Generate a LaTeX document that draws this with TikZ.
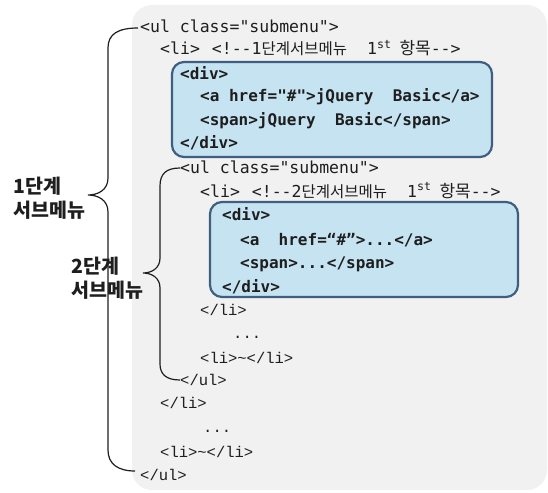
\documentclass[tikz,border=0pt]{standalone}
\usepackage{fontspec}
\newfontfamily\codesans{DejaVu Sans Mono}
\newfontfamily\codeserif{Liberation Mono}
\newfontfamily\kr{Noto Sans CJK KR}
\newcommand\krc[1]{{\kr\fontsize{15.5}{16}\selectfont #1}}
\definecolor{bgGray}{HTML}{F1F1F1}
\definecolor{boxFill}{HTML}{C6E3F1}
\definecolor{boxLine}{HTML}{3F5F80}
\definecolor{ink}{HTML}{1E1E1E}
\begin{document}
\begin{tikzpicture}[x=1pt,y=-1pt,
  code/.style={anchor=base west, inner sep=0pt, text=ink, font=\codesans\fontsize{16.5}{16}\selectfont},
  codeb/.style={anchor=base west, inner sep=0pt, text=ink, font=\codesans\bfseries\fontsize{16}{16}\selectfont},
  codes/.style={anchor=base west, inner sep=0pt, text=ink, font=\codeserif\fontsize{15.5}{16}\selectfont},
  divbox/.style={draw=boxLine, line width=2.2pt, fill=boxFill, rounded corners=12pt, inner sep=0pt},
  bracepath/.style={draw=ink, line width=1.2pt},
  lbl/.style={anchor=base west, inner sep=0pt, text=ink, font=\kr\bfseries\fontsize{19.5}{25}\selectfont}]
\useasboundingbox (0,0) rectangle (548,492);
% background panel
\fill[bgGray, rounded corners=20pt] (132,5) rectangle (547,490);
% div boxes
\node[divbox, minimum width=320pt, minimum height=95pt] (box1) at (332,109.5) {};
\node[divbox, minimum width=308pt, minimum height=95pt] (box2) at (364,249.5) {};
% braces
\draw[bracepath] (138,28) .. controls (118,28) and (108,34) .. (108,48) -- (108,178)
  .. controls (108,190) and (98,195) .. (88,195)
  .. controls (98,195) and (108,200) .. (108,212) -- (108,450)
  .. controls (108,464) and (118,471) .. (135,471);
\draw[bracepath] (180,168) .. controls (166,168) and (160,174) .. (160,186) -- (160,258)
  .. controls (160,268) and (152,273) .. (143,273)
  .. controls (152,273) and (160,278) .. (160,288) -- (160,364)
  .. controls (160,374) and (166,380) .. (180,380);
% labels
\node[lbl] (l1a) at (13,193) {1단계};
\node[lbl] (l1b) at (13,217) {서브메뉴};
\node[lbl] (l2a) at (71,273) {2단계};
\node[lbl] (l2b) at (71,297) {서브메뉴};
% code lines
\node[code] (ul1) at (140,33) {<ul class="submenu">};
\node[code] (li1) at (160,55) {<li>\hspace{12pt}<!--1\krc{단계서브메뉴}\hspace{20pt}1\textsuperscript{st}\hspace{8pt}{\kr\fontsize{17}{16}\selectfont 항목}-->};
\node[codeb] (div1o) at (180,80) {<div>};
\node[codeb] (a1) at (200,102) {<a href="\#">jQuery\ \ Basic</a>};
\node[codeb] (span1) at (200,125) {<span>jQuery\ \ Basic</span>};
\node[codeb] (div1c) at (180,148) {</div>};
\node[code] (ul2) at (180,173) {<ul class="submenu">};
\node[code] (li2) at (200,197) {<li>\hspace{12pt}<!--2\krc{단계서브메뉴}\hspace{20pt}1\textsuperscript{st}\hspace{8pt}{\kr\fontsize{17}{16}\selectfont 항목}-->};
\node[codeb] (div2o) at (222,220) {<div>};
\node[codeb] (a2) at (240,245) {<a\ \ href=“\#”>...</a>};
\node[codeb] (span2) at (240,268) {<span>...</span>};
\node[codeb] (div2c) at (222,292) {</div>};
\node[codes] (li2c) at (200,315) {</li>};
\node[codes] (dots2) at (233,338) {...};
\node[codes] (li2x) at (200,363) {<li>\textasciitilde</li>};
\node[codes] (ul2c) at (180,385) {</ul>};
\node[codes] (li1c) at (160,408) {</li>};
\node[codes] (dots1) at (203,432) {...};
\node[codes] (li1x) at (160,457) {<li>\textasciitilde</li>};
\node[codes] (ul1c) at (140,480) {</ul>};
\end{tikzpicture}
\end{document}
